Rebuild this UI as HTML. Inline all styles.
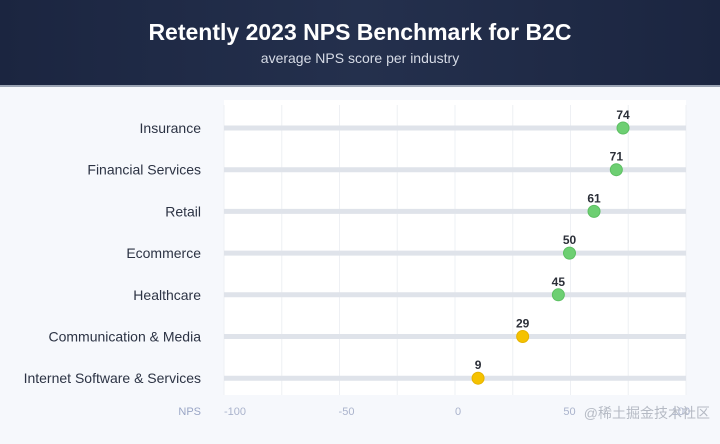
<!DOCTYPE html>
<html><head><meta charset="utf-8"><style>
body{margin:0;width:720px;height:439px;overflow:hidden;font-family:"Liberation Sans","Noto Sans CJK SC",sans-serif;background:#f6f8fc}
</style></head><body>
<svg width="720" height="439">
<defs><linearGradient id="hd" x1="0" y1="0" x2="1" y2="0"><stop offset="0" stop-color="#1b2540"/><stop offset="0.5" stop-color="#24304d"/><stop offset="1" stop-color="#1b2540"/></linearGradient></defs>
<rect width="720" height="439" fill="#f6f8fc"/>
<rect x="224" y="100" width="462" height="295" fill="#ffffff"/>
<rect width="720" height="85" fill="url(#hd)"/>
<rect y="85" width="720" height="2" fill="#9aa3b3"/>
<text x="360" y="40" text-anchor="middle" fill="#fff" font-size="23" font-weight="bold">Retently 2023 NPS Benchmark for B2C</text>
<text x="360" y="63" text-anchor="middle" fill="#d6dbe6" font-size="14">average NPS score per industry</text>
<g id="g"></g>
<text x="201" y="415" text-anchor="end" fill="#9aa6c6" font-size="11">NPS</text>
<text x="710" y="418" text-anchor="end" fill="#b5bac4" font-size="14">@稀土掘金技术社区</text>
</svg>
<script>
const categories=["Insurance","Financial Services","Retail","Ecommerce","Healthcare","Communication & Media","Internet Software & Services"];
const values=[74,71,61,50,45,29,9];
const ticks=[-100,-50,0,50,100];
const NS="http://www.w3.org/2000/svg",g=document.getElementById('g');
const x=v=>458+v*2.23;
const y=i=>128+i*41.7;
function mk(t,a,txt){const e=document.createElementNS(NS,t);for(const k in a)e.setAttribute(k,a[k]);if(txt!=null)e.textContent=txt;g.appendChild(e);return e;}
for(let k=0;k<=8;k++){const e=mk('line',{x1:224+k*57.75,x2:224+k*57.75,y1:105,y2:395,stroke:'#eef0f4','stroke-width':1});

}
ticks.forEach(t=>{const e=mk('text',{x:x(t),y:415,'text-anchor':'middle',fill:'#aab3cc','font-size':11},t);

});
categories.forEach((c,i)=>{
const l=mk('text',{x:201,y:y(i)+5,'text-anchor':'end',fill:'#2c3344','font-size':14},c);


const tr=mk('line',{x1:224,x2:686,y1:y(i),y2:y(i),stroke:'#dfe3ea','stroke-width':5});


const d=mk('circle',{cx:x(values[i]),cy:y(i),r:6,fill:values[i]>=30?'#6dcf72':'#f5c200',stroke:values[i]>=30?'#5cbf62':'#e5b200'});


const v=mk('text',{x:x(values[i]),y:y(i)-9,'text-anchor':'middle',fill:'#2b2f38','font-size':12,'font-weight':'bold'},values[i]);


});
</script>
</body></html>
